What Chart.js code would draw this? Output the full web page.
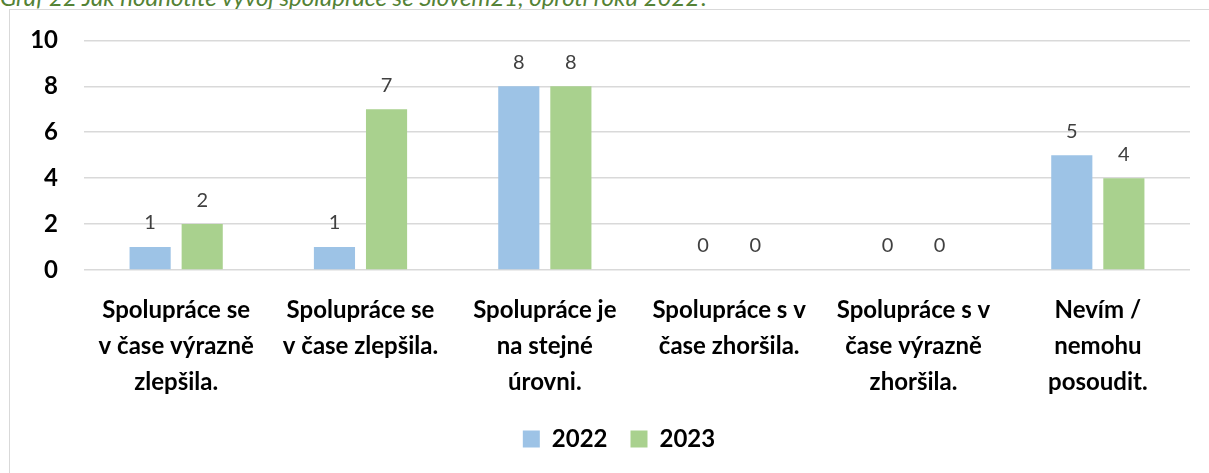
<!DOCTYPE html>
<html>
<head>
<meta charset="utf-8">
<script src="https://cdn.jsdelivr.net/npm/chart.js@4"></script>
<style>
  html, body { margin: 0; padding: 0; background: #fff; overflow: hidden; }
  #wrap { position: relative; width: 1209px; height: 473px; overflow: hidden; }
  #frame { position: absolute; left: 9px; top: 9px; width: 1400px; height: 700px; border: 1px solid #d9d9d9; box-sizing: border-box; }
  #title { position: absolute; left: 0px; top: -15px; font-family: Lato, sans-serif; font-style: italic; font-size: 24px; line-height: 1; color: #548235; white-space: nowrap; }
  #c { position: absolute; left: 0; top: 0; }
</style>
</head>
<body>
<div id="wrap">
  <div id="title">Graf 22 Jak hodnotíte vývoj spolupráce se Slovem21, oproti roku 2022?</div>
  <div id="frame"></div>
  <canvas id="c" width="1209" height="473"></canvas>
</div>
<script>
const categories = [
  ["Spolupráce se", "v čase výrazně", "zlepšila."],
  ["Spolupráce se", "v čase zlepšila."],
  ["Spolupráce je", "na stejné", "úrovni."],
  ["Spolupráce s v", "čase zhoršila."],
  ["Spolupráce s v", "čase výrazně", "zhoršila."],
  ["Nevím /", "nemohu", "posoudit."]
];
const seriesNames = ["2022", "2023"];
const values2022 = [1, 1, 8, 0, 0, 5];
const values2023 = [2, 7, 8, 0, 0, 4];
const yTicks = [0, 2, 4, 6, 8, 10];

const valueLabels = {
  id: 'valueLabels',
  afterDatasetsDraw(chart) {
    const ctx = chart.ctx;
    ctx.save();
    ctx.font = '20px Lato, sans-serif';
    ctx.fillStyle = '#404040';
    ctx.textAlign = 'center';
    ctx.textBaseline = 'middle';
    chart.data.datasets.forEach((ds, i) => {
      const meta = chart.getDatasetMeta(i);
      meta.data.forEach((el, j) => {
        ctx.fillText(String(ds.data[j]), el.x, el.y - 24);
      });
    });
    ctx.restore();
  }
};

const legendShift = {
  id: 'legendShift',
  afterLayout(chart) {
    const lg = chart.legend;
    if (lg) { lg.left += 24; lg.right += 24; }
  }
};

new Chart(document.getElementById('c'), {
  type: 'bar',
  data: {
    labels: categories,
    datasets: [
      { label: seriesNames[0], data: values2022, backgroundColor: '#9dc3e6', barPercentage: 0.79, categoryPercentage: 0.565 },
      { label: seriesNames[1], data: values2023, backgroundColor: '#a9d18e', barPercentage: 0.79, categoryPercentage: 0.565 }
    ]
  },
  options: {
    responsive: false,
    animation: false,
    layout: { padding: { top: 40, right: 19, left: 0, bottom: 12 } },
    plugins: {
      tooltip: { enabled: false },
      legend: {
        position: 'bottom',
        labels: {
          boxWidth: 17, boxHeight: 17,
          color: '#000',
          padding: 23,
          font: { family: 'Lato, sans-serif', size: 24, weight: 'bold' }
        }
      }
    },
    scales: {
      x: {
        grid: { display: false, drawTicks: false },
        border: { display: false },
        ticks: {
          color: '#000',
          padding: 22,
          maxRotation: 0,
          autoSkip: false,
          font: { family: 'Lato, sans-serif', size: 24, weight: 'bold', lineHeight: '36px' }
        },
        afterFit(scale) { scale.height = 134; }
      },
      y: {
        min: 0, max: 10,
        afterBuildTicks(scale) { scale.ticks = yTicks.map(v => ({ value: v })); },
        grid: { color: '#d9d9d9', lineWidth: 1.5, drawTicks: false },
        border: { display: false },
        ticks: {
          color: '#000',
          padding: 26,
          font: { family: 'Lato, sans-serif', size: 24, weight: 'bold' }
        },
        afterFit(scale) { scale.width = 84; }
      }
    }
  },
  plugins: [valueLabels, legendShift]
});
</script>
</body>
</html>
